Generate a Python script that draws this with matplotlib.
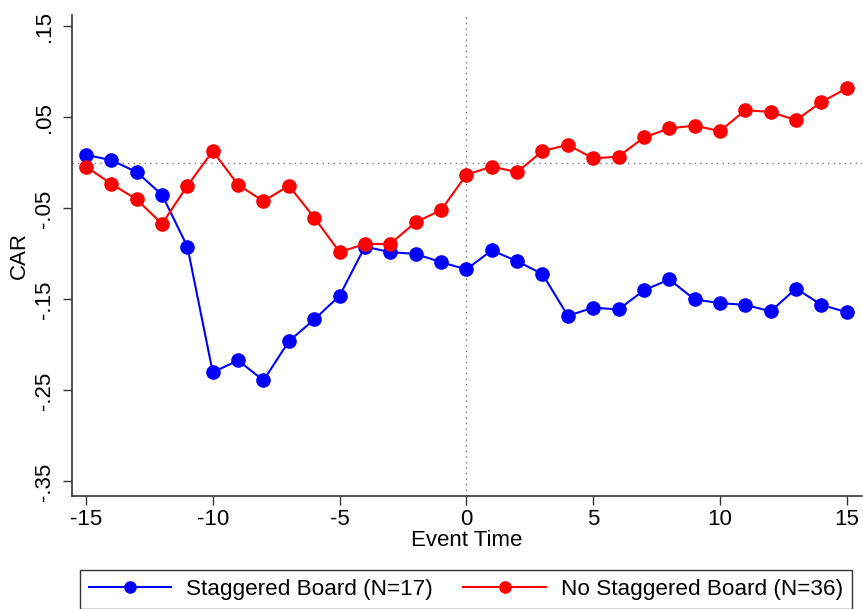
import matplotlib
matplotlib.use("Agg")
import matplotlib.pyplot as plt

plt.rcParams['font.family'] = ['Liberation Sans', 'DejaVu Sans']
plt.rcParams['axes.unicode_minus'] = False

event_time = list(range(-15, 16))

# cumulative abnormal returns, firms with a staggered board
car_staggered = [
    0.009, 0.003, -0.010, -0.035, -0.092,
    -0.230, -0.217, -0.239, -0.196, -0.172,
    -0.146, -0.092, -0.098, -0.100, -0.109,
    -0.117, -0.096, -0.108, -0.122, -0.168,
    -0.159, -0.161, -0.140, -0.128, -0.150,
    -0.154, -0.156, -0.163, -0.138, -0.156,
    -0.164,
]

# cumulative abnormal returns, firms without a staggered board
car_no_staggered = [
    -0.004, -0.023, -0.040, -0.067, -0.025,
    0.013, -0.024, -0.042, -0.025, -0.060,
    -0.098, -0.089, -0.089, -0.065, -0.052,
    -0.013, -0.004, -0.010, 0.013, 0.020,
    0.005, 0.007, 0.028, 0.038, 0.041,
    0.035, 0.058, 0.056, 0.047, 0.067,
    0.082,
]

labels = ['Staggered Board (N=17)', 'No Staggered Board (N=36)']
x_ticks = [-15, -10, -5, 0, 5, 10, 15]
y_ticks = [0.15, 0.05, -0.05, -0.15, -0.25, -0.35]
y_tick_labels = ['.15', '.05', '-.05', '-.15', '-.25', '-.35']

fig = plt.figure(figsize=(8.63, 6.09), dpi=100)
ax = fig.add_axes([72/863, 1 - 496/609, 790/863, (496 - 15)/609])

ax.axhline(0, color='#777777', linestyle=(0, (1, 3)), linewidth=1, zorder=1)
ax.axvline(0, color='#777777', linestyle=(0, (1, 3)), linewidth=1, zorder=1)

l1, = ax.plot(event_time, car_staggered, color='#0000ff', marker='o',
              markersize=9.5, linewidth=1.5, label=labels[0], zorder=3)
l2, = ax.plot(event_time, car_no_staggered, color='#ff0000', marker='o',
              markersize=9.5, linewidth=1.5, label=labels[1], zorder=3)

ax.set_xlim(-15.55, 15.6)
ax.set_ylim(-0.366, 0.1626)
ax.set_xticks(x_ticks)
ax.set_yticks(y_ticks)
ax.set_yticklabels(y_tick_labels)

for side in ['top', 'right']:
    ax.spines[side].set_visible(False)
for side in ['left', 'bottom']:
    ax.spines[side].set_color('#333333')
    ax.spines[side].set_linewidth(1.2)

ax.tick_params(axis='both', length=6.5, width=1.0, color='#333333',
               labelsize=16, direction='out')
ax.tick_params(axis='x', pad=3)
ax.tick_params(axis='y', pad=6)
for lab in ax.get_yticklabels():
    lab.set_rotation(90)
    lab.set_va('center')

ax.set_xlabel('Event Time', fontsize=16, labelpad=0)
ax.set_ylabel('CAR', fontsize=16, labelpad=3)

# legend box stretched across the bottom, its lower edge runs off the page
leg = fig.legend(handles=[l1, l2], loc='upper left',
                 bbox_to_anchor=(80/863, 1 - 570/609, 772/863, 0),
                 mode='expand', ncol=2,
                 fontsize=16.2, handlelength=3.65, handletextpad=0.68,
                 columnspacing=1.5, borderpad=0.4, borderaxespad=0,
                 markerscale=0.85, fancybox=False, frameon=True)
leg.get_frame().set_edgecolor('black')
leg.get_frame().set_linewidth(1.0)

fig.savefig('out.png', dpi=100)
